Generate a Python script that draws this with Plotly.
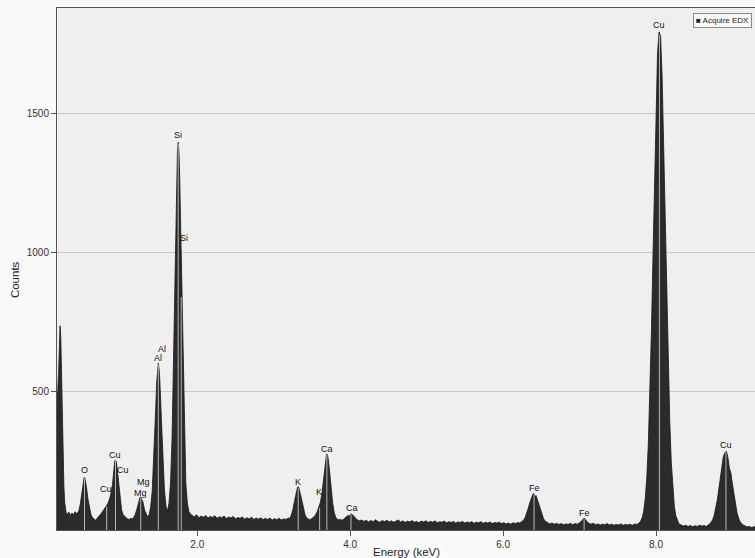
import plotly.graph_objects as go

# ---- spectrum data (energy in keV, counts) ----
energy = [
    0.165, 0.175, 0.185, 0.195, 0.205, 0.215, 0.225, 0.235, 0.245, 0.255, 0.265, 0.275, 0.285,
    0.30, 0.32, 0.34, 0.36, 0.38, 0.40, 0.42, 0.44,
    0.45, 0.47, 0.49, 0.50, 0.51, 0.52, 0.53, 0.54, 0.55, 0.57, 0.59, 0.61,
    0.63, 0.65, 0.67, 0.69, 0.71, 0.73, 0.75, 0.77, 0.79, 0.81, 0.83,
    0.85, 0.87, 0.89, 0.91, 0.92, 0.93, 0.94, 0.95, 0.97, 0.99, 1.01, 1.03,
    1.05, 1.07, 1.09, 1.11, 1.13, 1.15, 1.17,
    1.19, 1.21, 1.23, 1.25, 1.26, 1.27, 1.29, 1.31, 1.33, 1.35, 1.37,
    1.39, 1.41, 1.43, 1.45, 1.47, 1.48, 1.49, 1.50, 1.51, 1.53, 1.55, 1.57, 1.59, 1.61,
    1.63, 1.65, 1.67, 1.69, 1.71, 1.72, 1.73, 1.74, 1.75, 1.76, 1.77, 1.78, 1.79, 1.81,
    1.83, 1.85, 1.87, 1.89, 1.91,
    1.93, 1.96, 1.99, 2.02, 2.05, 2.08, 2.11, 2.14, 2.17, 2.20, 2.23, 2.26, 2.29, 2.32,
    2.35, 2.38, 2.41, 2.44, 2.47, 2.50, 2.53, 2.56, 2.59, 2.62, 2.65, 2.68, 2.71, 2.74,
    2.77, 2.80, 2.83, 2.86, 2.89, 2.92, 2.95, 2.98, 3.01, 3.04, 3.07, 3.10, 3.13, 3.16,
    3.19, 3.21,
    3.23, 3.25, 3.27, 3.29, 3.31, 3.32, 3.33, 3.35, 3.37, 3.39, 3.41, 3.43,
    3.45, 3.47, 3.49, 3.51,
    3.53, 3.55, 3.57, 3.59, 3.61, 3.63, 3.65, 3.67, 3.68, 3.69, 3.70, 3.71, 3.73, 3.75,
    3.77, 3.79, 3.81, 3.83, 3.85, 3.87, 3.89, 3.91, 3.93,
    3.95, 3.97, 3.99, 4.01, 4.03, 4.05, 4.07, 4.09, 4.12,
    4.15, 4.18, 4.21, 4.24, 4.27, 4.30, 4.33, 4.36, 4.39, 4.42, 4.45, 4.48, 4.51, 4.54,
    4.57, 4.60, 4.63, 4.66, 4.69, 4.72, 4.75, 4.78, 4.81, 4.84, 4.87, 4.90, 4.93, 4.96,
    4.99, 5.02, 5.05, 5.08, 5.11, 5.14, 5.17, 5.20, 5.23, 5.26, 5.29, 5.32, 5.35, 5.38,
    5.41, 5.44, 5.47, 5.50, 5.53, 5.56, 5.59, 5.62, 5.65, 5.68, 5.71, 5.74, 5.77, 5.80,
    5.83, 5.86, 5.89, 5.92, 5.95, 5.98, 6.01, 6.04, 6.07, 6.10, 6.13, 6.16, 6.19, 6.22,
    6.25,
    6.27, 6.29, 6.31, 6.33, 6.35, 6.37, 6.39, 6.40, 6.41, 6.42, 6.43, 6.45, 6.47, 6.49,
    6.51, 6.53, 6.55,
    6.58, 6.61, 6.64, 6.67, 6.70, 6.73, 6.76, 6.79, 6.82, 6.85, 6.88, 6.91, 6.94, 6.97,
    7.00, 7.02, 7.04, 7.06, 7.08, 7.10, 7.12, 7.15, 7.18, 7.21, 7.24, 7.27, 7.30, 7.33,
    7.36, 7.39, 7.42, 7.45, 7.48, 7.51, 7.54, 7.57, 7.60, 7.63, 7.66, 7.69, 7.72, 7.75,
    7.78,
    7.80, 7.82, 7.84, 7.86, 7.88, 7.90, 7.92, 7.94, 7.96, 7.98, 8.00, 8.02, 8.04, 8.06,
    8.08, 8.10, 8.12, 8.14, 8.16, 8.18, 8.20, 8.22, 8.24, 8.26, 8.28, 8.30,
    8.33, 8.36, 8.39, 8.42, 8.45, 8.48, 8.51, 8.54, 8.57, 8.60, 8.63, 8.66, 8.68,
    8.70, 8.72, 8.74, 8.76, 8.78, 8.80, 8.82, 8.84, 8.86, 8.88, 8.90, 8.92, 8.93, 8.94,
    8.96, 8.98, 9.00, 9.02, 9.04, 9.06, 9.08, 9.10, 9.13, 9.16, 9.19, 9.22, 9.25, 9.28,
    9.31,
]
counts = [
    480, 500, 560, 670, 735, 690, 520, 395, 250, 158, 100, 75, 62,
    58, 64, 52, 61, 55, 66, 58, 63,
    68, 94, 137, 160, 178, 189, 186, 172, 155, 111, 74, 55,
    44, 38, 35, 42, 48, 56, 62, 70, 78, 88, 95,
    110, 130, 162, 226, 247, 252, 245, 228, 180, 110, 72, 55,
    48, 44, 40, 38, 42, 40, 46,
    57, 75, 98, 116, 119, 112, 100, 72, 57, 48, 55,
    82, 139, 246, 396, 537, 580, 600, 580, 537, 400, 250, 145, 86, 68,
    97, 169, 331, 606, 958, 1128, 1269, 1363, 1395, 1363, 1269, 1128, 958, 606,
    331, 169, 97, 66, 58,
    52, 47, 55, 44, 50, 46, 52, 43, 49, 45, 51, 42, 48, 44,
    50, 41, 47, 43, 49, 40, 45, 42, 47, 39, 44, 40, 46, 38,
    43, 39, 44, 37, 42, 38, 43, 36, 41, 37, 42, 36, 40, 38,
    43, 41,
    54, 73, 102, 133, 153, 156, 150, 128, 102, 73, 54, 44,
    40, 37, 40, 44,
    48, 56, 67, 84, 99, 131, 183, 240, 261, 272, 272, 261, 213, 152,
    99, 64, 46, 40, 36, 39, 35, 38, 42,
    47, 52, 50, 58, 55, 49, 42, 37, 33,
    36, 31, 35, 29, 34, 30, 37, 31, 28, 34, 30, 35, 29, 33,
    28, 32, 36, 29, 33, 27, 32, 29, 34, 28, 31, 26, 32, 29,
    33, 27, 31, 28, 33, 26, 30, 28, 32, 26, 30, 27, 31, 25,
    29, 27, 31, 25, 29, 26, 30, 24, 28, 26, 30, 24, 28, 25,
    29, 23, 27, 25, 28, 23, 26, 22, 25, 21, 26, 23, 27, 25,
    30,
    36, 46, 60, 79, 99, 117, 129, 132, 128, 118, 124, 108, 89, 69,
    53, 40, 32,
    26, 22, 25, 21, 24, 20, 23, 19, 22, 20, 24, 19, 23, 21,
    26, 30, 36, 43, 38, 30, 24, 21, 24, 19, 22, 18, 21, 19,
    23, 18, 21, 17, 20, 18, 22, 17, 20, 18, 21, 17, 22, 20,
    25,
    32, 45, 69, 115, 192, 312, 486, 713, 978, 1262, 1520, 1715, 1792, 1776,
    1631, 1398, 1119, 840, 589, 390, 244, 145, 85, 51, 33, 22,
    18, 14, 17, 13, 16, 12, 15, 13, 17, 14, 16, 13, 18,
    21, 28, 36, 52, 74, 105, 144, 186, 228, 263, 278, 283, 274, 262,
    222, 205, 165, 124, 89, 62, 43, 30, 20, 14, 11, 13, 9, 12,
    10,
]

# ---- element markers: label text, label position, marker line energy/height ----
label_text = ["O", "Cu", "Cu", "Cu", "Mg", "Mg", "Al", "Al", "Si", "Si",
              "K", "K", "Ca", "Ca", "Fe", "Fe", "Cu", "Cu"]
label_e = [0.52, 0.81, 0.93, 1.03, 1.29, 1.26, 1.54, 1.48, 1.744, 1.83,
           3.32, 3.596, 3.70, 4.02, 6.405, 7.06, 8.043, 8.916]
label_c = [216, 147, 270, 216, 172, 134, 653, 620, 1421, 1049,
           174, 138, 291, 78, 150, 62, 1817, 306]

line_e = [0.525, 0.815, 0.93, 1.26, 1.49, 1.75, 1.79, 3.32, 3.60, 3.695,
          4.01, 6.405, 7.06, 8.045, 8.915]
line_h = [185, 85, 250, 115, 595, 1390, 838, 150, 80, 270,
          55, 130, 40, 1780, 280]

x_ticks = [2.0, 4.0, 6.0, 8.0]
x_tick_text = ["2.0", "4.0", "6.0", "8.0"]
y_ticks = [500, 1000, 1500]

FONT = "Liberation Sans, Arial, sans-serif"

fig = go.Figure()
fig.add_trace(go.Scatter(
    x=energy, y=counts, mode="lines", fill="tozeroy",
    line=dict(color="#161616", width=0.8),
    fillcolor="#2b2b2b", showlegend=False, hoverinfo="skip",
))

shapes = []
for e, h in zip(line_e, line_h):
    shapes.append(dict(type="line", xref="x", yref="y", x0=e, x1=e, y0=0, y1=h,
                       line=dict(color="#b8b8b8", width=1), layer="above"))

annotations = []
for t, e, c in zip(label_text, label_e, label_c):
    annotations.append(dict(x=e, y=c, xref="x", yref="y", text=t, showarrow=False,
                            font=dict(family=FONT, size=9, color="#111111"),
                            xanchor="center", yanchor="middle"))

# axis titles
annotations.append(dict(x=0.5, y=0, xref="paper", yref="paper", text="Energy (keV)",
                        showarrow=False, xanchor="center", yanchor="top", yshift=-14,
                        bgcolor="#ffffff", borderpad=1,
                        font=dict(family=FONT, size=11.5, color="#222222")))
annotations.append(dict(x=-0.06, y=0.479, xref="paper", yref="paper", text="Counts",
                        showarrow=False, textangle=-90, xanchor="center", yanchor="middle",
                        font=dict(family=FONT, size=11.5, color="#222222")))
# legend box
annotations.append(dict(x=1, y=1, xref="paper", yref="paper", text="■ Acquire EDX",
                        showarrow=False, xanchor="right", yanchor="top",
                        xshift=-3, yshift=-5, bgcolor="#f9f9f9",
                        bordercolor="#8a8a8a", borderwidth=1, borderpad=2,
                        font=dict(family=FONT, size=8, color="#222222")))

fig.update_layout(
    width=755, height=558,
    margin=dict(l=57, r=0, t=8, b=28),
    paper_bgcolor="#fafafa", plot_bgcolor="#efefef",
    shapes=shapes, annotations=annotations, showlegend=False,
    xaxis=dict(range=[0.165, 9.295], tickvals=x_ticks, ticktext=x_tick_text,
               ticks="outside", ticklen=5, tickcolor="#555555",
               showgrid=False, zeroline=False, showline=True, mirror=True,
               linecolor="#555555", linewidth=1,
               tickfont=dict(family=FONT, size=10, color="#333333")),
    yaxis=dict(range=[0, 1878], tickvals=y_ticks,
               ticks="outside", ticklen=5, tickcolor="#555555",
               showgrid=True, gridcolor="#c9c9c9", gridwidth=1, zeroline=False,
               showline=True, linecolor="#555555", linewidth=1,
               tickfont=dict(family=FONT, size=10, color="#333333")),
)

fig.write_html("out.html")
